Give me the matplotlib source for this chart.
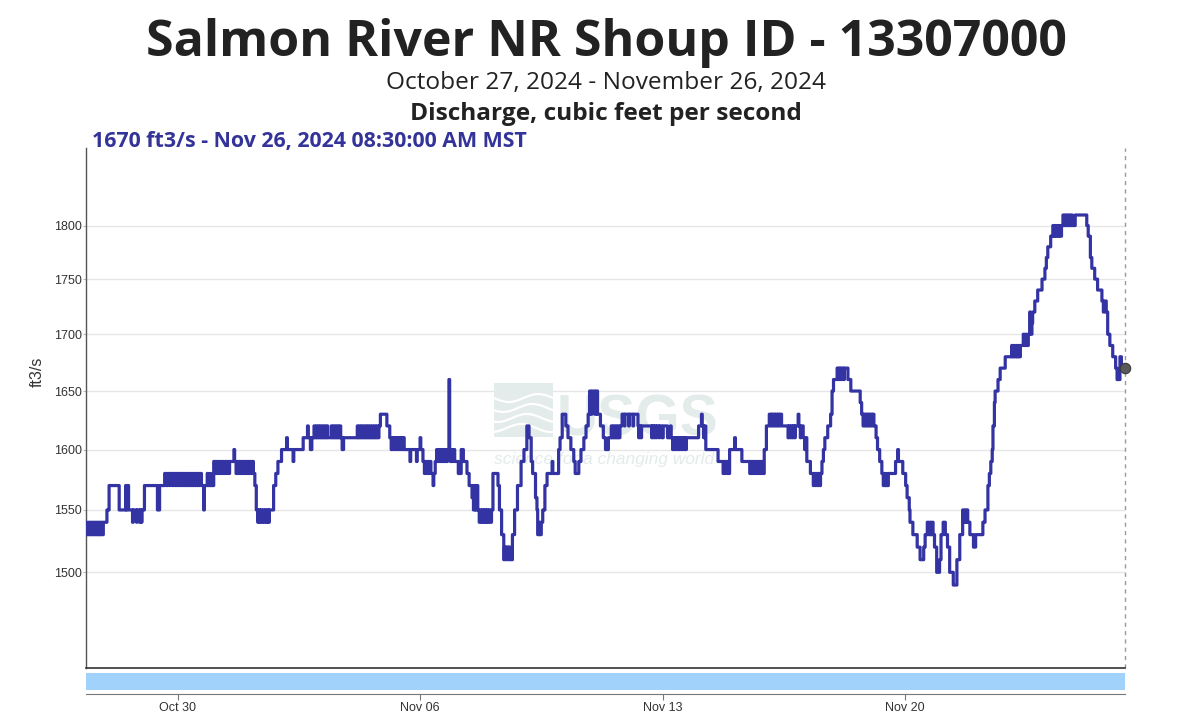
import matplotlib
matplotlib.use("Agg")
import matplotlib.pyplot as plt
import matplotlib.ticker as mticker
from matplotlib.patches import Rectangle
import numpy as np
import pandas as pd

# ---------------- data (hours since 2024-10-27 08:30 MST, discharge ft3/s) ----------------
START = "2024-10-27 08:30"
END = "2024-11-26 08:30"

week1 = [(0,1540),(0.5,1530),(1.5,1540),(2,1530),(3,1540),(3.5,1530),(4.5,1540),(5,1530),(6,1540),(6.5,1530),
         (7.5,1540),(8,1530),(9,1540),(9.5,1530),(10.5,1540),(11,1530),(12,1540),(14.5,1550),(16,1570),(23,1550),
         (27.5,1570),(28,1550),(28.5,1570),(29.5,1550),(32.25,1540),(32.75,1550),(35,1540),(35.25,1550),(37,1540),
         (37.5,1550),(38.5,1540),(38.75,1550),(40.5,1570),(49.5,1550),(51,1570),(54.5,1580),(56,1570),(56.5,1580),
         (58,1570),(58.5,1580),
         (60,1570),(60.5,1580),(62,1570),(62.5,1580),(63.5,1570),(64,1580),(65,1570),(65.5,1580),(66.5,1570),(67,1580),
         (68,1570),(68.5,1580),(69.5,1570),(70,1580),(71,1570),(71.5,1580),(72.5,1570),(73,1580),(74,1570),(74.5,1580),
         (75.5,1570),(76,1580),(77,1570),(77.5,1580),(78.5,1570),(79,1580),(80,1570),(81.5,1550),(82,1570),(84,1580),
         (84.5,1570),(86,1580),(86.5,1570),(88.5,1590),(90,1580),(90.5,1590),(91.5,1580),(92,1590),(93,1580),(93.5,1590),
         (94.5,1580),(95,1590),(96,1580),(96.5,1590),(97.5,1580),(98,1590),(99,1580),(99.5,1590),(102.5,1600),(103,1590),
         (104,1580),(104.5,1590),(105.5,1580),(106,1590),(107,1580),(107.5,1590),(108.5,1580),(109,1590),(110,1580),
         (110.5,1590),(111.5,1580),(112,1590),(113,1580),(113.5,1590),(114.5,1580),(115,1590),(116,1580),(117,1570),
         (118,1550),(119,1540),(119.5,1550),(120.5,1540),(121,1550),(122,1540),(122.5,1550),(123.5,1540),(124,1550),
         (125,1540),(125.5,1550),(126.5,1540),(127,1550),(130,1570),(131.5,1580),(133,1590),(135.5,1600)]

week2 = [(139,1610),(139.5,1600),(143.5,1590),(144,1600),(150.5,1610),(153.5,1620),(154,1610),(155.5,1600),(156.5,1610),
         (158,1620),(158.5,1610),(159.5,1620),(160,1610),(161,1620),(161.5,1610),(162.5,1620),(163,1610),(164,1620),
         (164.5,1610),(165.5,1620),(166,1610),(167,1620),(167.5,1610),(170,1620),(170.5,1610),(171.5,1620),(172,1610),
         (173,1620),(173.5,1610),(174.5,1620),(175,1610),(176,1620),(176.5,1610),(177.5,1600),(178.5,1610),(188,1620),
         (188.5,1610),(189.5,1620),(190,1610),(191,1620),(191.5,1610),(192.5,1620),(193,1610),(194,1620),(194.5,1610),
         (195.5,1620),(196,1610),(197,1620),(197.5,1610),(198.5,1620),(199,1610),(200,1620),(200.5,1610),(201.5,1620),
         (202,1610),(203,1620),(204,1630),(208.5,1620),(210.5,1610),(211.5,1600),(212,1610),(213,1600),(213.5,1610),
         (214.5,1600),(215,1610),(216,1600),(216.5,1610),(217.5,1600),(218,1610),(219,1600),(219.5,1610),(220.5,1600),
         (224.5,1590),(225,1600),(229,1590),(229.5,1600),(231.5,1610),(232,1600),(233.5,1590),(234.5,1580),(235,1590),
         (236,1580),(236.5,1590),(237.5,1580),(238,1590),(239,1580),(240.5,1570),(241,1580),(242,1590),(243,1600),
         (243.5,1590),(244.5,1600),(245,1590),(246,1600),(246.5,1590),(247.5,1600),(248,1590),(249,1600),(249.5,1590),
         (250.5,1600),(251.5,1660),(252,1600),(252.5,1590),(253.5,1600),(254,1590),(255,1600),(255.5,1590),(258,1580),
         (260,1600)]

week3 = [(261.5,1590),(264,1580),(265.5,1570),(267.5,1560),(268,1570),(268.5,1550),(269.5,1570),(270,1550),(271,1570),
         (271.5,1550),(272.5,1540),(273,1550),(274,1540),(274.5,1550),(275.5,1540),(276,1550),(277,1540),(277.5,1550),
         (278.5,1540),(279,1550),(280,1540),(281,1550),(282,1580),(285.5,1570),(286.5,1550),(288,1530),(289.5,1510),
         (290,1520),(291,1510),(291.5,1520),(292.5,1510),(293,1520),(294,1510),(295.5,1530),(297,1550),(299,1570),
         (301.5,1590),(303.5,1600),(305.5,1620),(307,1610),(308.5,1590),(309.5,1580),(311.5,1560),(312.5,1550),
         (313,1530),(314,1540),(314.5,1530),(315.5,1540),(316.5,1550),(318,1570),(319.5,1580),(323,1590),(323.5,1580),
         (327.5,1600),(328.5,1610),(330,1630),(332.5,1620),(334,1610),(336,1600),(338,1590),(339,1580),(341.5,1590),
         (343,1600),(345,1610),(346.5,1620),(348,1630),(349,1650),(349.5,1630),(350.5,1650),(351,1640),(352,1650),
         (352.5,1630),(353.5,1650),(354.5,1630),(356.5,1620),(358.5,1610),(360,1600),(362,1610),(364,1620),(364.5,1610),
         (365.5,1620),(366,1610),(367,1620),(367.5,1610),(368.5,1620),(369,1610),(370,1620),(371.5,1630),(373,1620),
         (373.5,1630),(376,1620),(376.5,1630),(379,1620),(379.5,1630),(382.5,1620),(383,1610),(383.5,1620),(384.5,1610),
         (385,1620),(392,1610),(392.5,1620),(393.5,1610),(394,1620),(395,1610),(395.5,1620),(397,1610),(397.5,1620),
         (399,1610)]

week4 = [(400,1620),(403,1610),(405,1620),(405.5,1610),(406.5,1600),(407,1610),(408,1600),(408.5,1610),(409.5,1600),
         (410,1610),(411,1600),(411.5,1610),(412.5,1600),(413,1610),(414,1600),(414.5,1610),(415.5,1600),(416,1610),
         (424.5,1620),(426.5,1630),(427,1620),(428,1610),(428.5,1620),(429.5,1600),(438,1590),(441.5,1580),(442,1590),
         (443,1580),(443.5,1590),(444.5,1580),(446,1600),(449.5,1610),(450,1600),(454.5,1590),(460,1580),(460.5,1590),
         (461.5,1580),(462,1590),(463,1580),(463.5,1590),(464.5,1580),(465,1590),(466,1580),(466.5,1590),(467.5,1580),
         (468,1590),(469,1580),(470,1600),(471.5,1620),(473.5,1630),(474.5,1620),(475,1630),(476,1620),(476.5,1630),
         (477.5,1620),(478,1630),(479,1620),(479.5,1630),(480.5,1620),(481,1630),(482,1620),(486.5,1610),(487,1620),
         (488,1610),(488.5,1620),(489.5,1610),(490,1620),(491,1610),(491.5,1620),(493.5,1630),(494,1620),(495,1610),
         (495.5,1620),(497,1610),(498,1600),(498.5,1610),(499.5,1590),(502,1580),(504,1570),(504.5,1580),(505.5,1570),
         (506,1580),(507,1570),(507.5,1580),(508.5,1570),(509,1580),(510,1590),(511,1600),(512,1610),(514,1620),
         (516,1630),(517,1650),(518,1660),(520.5,1670),(521.5,1660),(522,1670),(523,1660),(523.5,1670),(525,1660),
         (525.5,1670),(528,1660),(530,1650)]

week5 = [(531.5,1650),(536.5,1640),(537.5,1630),(538.5,1620),(539,1630),(540,1620),(540.5,1630),(541.5,1620),(542,1630),
         (543,1620),(543.5,1630),(544.5,1620),(545,1630),(546,1620),(547.5,1610),(548.5,1600),(550,1590),(551.5,1580),
         (552.5,1570),(553,1580),(553.5,1570),(554.5,1580),(555,1570),(556,1580),(561,1590),(562.5,1600),(563,1590),
         (566,1580),(568,1570),(569,1560),(570.5,1550),(571,1540),(573,1530),(576,1520),(578,1510),(580.5,1520),
         (581.5,1530),(583,1540),(584,1530),(585,1540),(585.5,1530),(586.5,1540),(587,1530),(588,1520),(589.5,1500),
         (591.5,1510),(592.5,1530),(594,1540),(595.5,1530),(597,1520),(598.5,1500),(601,1490),(603.5,1510),(605.5,1530),
         (607.5,1550),(608,1540),(609,1550),(609.5,1540),(610.5,1550),(611,1540),(612.5,1530),(615,1520),(616.5,1530),
         (620,1530),(621.5,1540),(623,1550),(625,1570),(626,1580),(627,1590),(628,1600),(628.5,1620),(629.5,1640),
         (630,1650),(632,1660),(633.5,1670),(637,1680),(641.5,1690),(642,1680),(643,1690),(643.5,1680),(644.5,1690),
         (645,1680),(646,1690),(646.5,1680),(647.5,1690),(649.5,1700),(650.5,1690),(651.5,1700),(652,1690),(653,1700),
         (654,1720),(654.5,1700),(655.5,1710),(656,1720),(657.5,1730),(659.5,1740),(662.5,1750),(664.5,1760),
         (665.5,1770),(666.5,1780),(668.5,1790),(670,1800),(670.5,1790),(671.5,1800),(672,1790),(673,1800),(673.5,1790),
         (674.5,1800),(675,1790),(676,1800),(677,1810),(677.5,1800),(678.5,1810),(679,1800),(680,1810),(680.5,1800),
         (681.5,1810),(682,1800),(683,1810),(683.5,1800),(685.5,1810),(693.5,1800),(694.5,1790),(696,1770),(697,1760),
         (699,1750),(701,1740),(704,1730),(705,1720),(706,1730),(707,1720),(708,1700),(709.5,1690),(711.5,1680),
         (713.5,1670),(714.5,1660),(716,1660),(716.5,1680),(717.5,1670),(720,1670)]

y_ticks = [1500, 1550, 1600, 1650, 1700, 1750, 1800]
x_tick_dates = ["2024-10-30", "2024-11-06", "2024-11-13", "2024-11-20"]
x_tick_labels = ["Oct 30", "Nov 06", "Nov 13", "Nov 20"]

title = "Salmon River NR Shoup ID - 13307000"
subtitle = "October 27, 2024 - November 26, 2024"
parameter = "Discharge, cubic feet per second"
latest = "1670 ft3/s - Nov 26, 2024 08:30:00 AM MST"
y_label = "ft3/s"

# ---------------- build series ----------------
pairs = week1 + week2 + week3 + week4 + week5
hours = [p[0] for p in pairs]
cfs = [p[1] for p in pairs]
t0 = pd.Timestamp(START)
times = t0 + pd.to_timedelta(hours, unit="h")

# ---------------- figure ----------------
W, H = 1192, 725
fig = plt.figure(figsize=(W / 100, H / 100), dpi=100)
fig.patch.set_facecolor("white")

def fx(px):
    return px / W

def fy(py):
    return 1 - py / H

ax_l, ax_r, ax_t, ax_b = 86, 1125, 148, 668
AW, AH = ax_r - ax_l, ax_b - ax_t
ax = fig.add_axes([fx(ax_l), fy(ax_b), fx(AW), AH / H])

def axx(px):
    return (px - ax_l) / AW

def axy(py):
    return (ax_b - py) / AH

line_color = "#3333a3"
ax.plot(times, cfs, color=line_color, lw=2.3, drawstyle="steps-post", zorder=3)
ax.plot([times[-1]], [cfs[-1]], "o", ms=7.5, color="#5a5a5a", mec="#3a3a3a", mew=0.8, zorder=5, clip_on=False)

ax.set_yscale("log")
ax.set_ylim(1426.4, 1874.9)
ax.set_xlim(pd.Timestamp(START), pd.Timestamp(END))
ax.yaxis.set_major_locator(mticker.FixedLocator(y_ticks))
ax.yaxis.set_minor_locator(mticker.NullLocator())
ax.yaxis.set_major_formatter(mticker.FixedFormatter([str(v) for v in y_ticks]))
ax.grid(axis="y", color="#e6e6e6", lw=1)
ax.set_axisbelow(True)
ax.tick_params(axis="y", which="major", length=2.2, color="#bbbbbb", labelsize=9,
               labelcolor="#333333", pad=0.8)
for lab in ax.get_yticklabels():
    lab.set_fontfamily("Liberation Sans")
ax.tick_params(axis="x", which="both", bottom=False, labelbottom=False)
for s in ["top", "right"]:
    ax.spines[s].set_visible(False)
ax.spines["left"].set_color("#555555")
ax.spines["bottom"].set_color("#333333")
ax.spines["left"].set_linewidth(1)
ax.spines["bottom"].set_linewidth(1.2)
ax.set_ylabel(y_label, fontsize=11.5, color="#333333", family="Liberation Sans")
ax.yaxis.set_label_coords(axx(45), axy(372))

# crosshair at last point
ax.axvline(times[-1], color="#999999", lw=1, ls=(0, (3, 3)), zorder=2, clip_on=False)

# USGS watermark
wm = "#e3ecea"
ax.add_patch(Rectangle((axx(494), axy(437)), 59 / AW, 54 / AH, transform=ax.transAxes,
                       facecolor=wm, edgecolor="none", zorder=1))
wx = np.linspace(494, 553, 60)
for k, base in enumerate([398, 408, 418, 428]):
    wy = base + 4 * np.sin((wx - 494) / 59 * 2 * np.pi + 0.6 * k)
    ax.plot([axx(v) for v in wx], [axy(v) for v in wy], transform=ax.transAxes,
            color="white", lw=1.6, zorder=1.5)
ax.text(axx(557), axy(435), "USGS", transform=ax.transAxes,
        fontsize=41, fontweight="bold", color=wm, family="Liberation Sans", va="baseline", ha="left", zorder=1)
ax.text(axx(494), axy(464), "science for a changing world",
        transform=ax.transAxes, fontsize=12.5, style="italic", color=wm, family="Liberation Sans",
        va="baseline", ha="left", zorder=1)

# navigator strip + date axis
nav = fig.add_axes([fx(ax_l), fy(694), fx(AW), 22 / H])
nav.set_xlim(pd.Timestamp(START), pd.Timestamp(END))
nav.set_ylim(0, 1)
nav.add_patch(Rectangle((0, 4 / 22), 1, 17.5 / 22, transform=nav.transAxes,
                        facecolor="#a0d2fb", edgecolor="none"))
nav.set_yticks([])
for s in ["top", "right", "left"]:
    nav.spines[s].set_visible(False)
nav.spines["bottom"].set_color("#777777")
nav.set_xticks([pd.Timestamp(d) for d in x_tick_dates])
nav.set_xticklabels(x_tick_labels)
nav.tick_params(axis="x", length=4, color="#777777", labelsize=9, labelcolor="#333333", pad=1.5)
for lab in nav.get_xticklabels():
    lab.set_fontfamily("Liberation Sans")

# titles
cx = fx(606)
fig.text(cx, fy(56), title, ha="center", va="baseline", fontsize=36, fontweight="bold",
         color="#222222", family="Open Sans")
fig.text(cx, fy(89), subtitle, ha="center", va="baseline", fontsize=17.6, color="#222222", family="Open Sans")
fig.text(cx, fy(120), parameter, ha="center", va="baseline", fontsize=17.6, fontweight="bold",
         color="#222222", family="Open Sans")
fig.text(fx(92), fy(147), latest, ha="left", va="baseline", fontsize=15.4, fontweight="bold",
         color="#333399", family="Open Sans")

fig.savefig("out.png", dpi=100, facecolor="white")
